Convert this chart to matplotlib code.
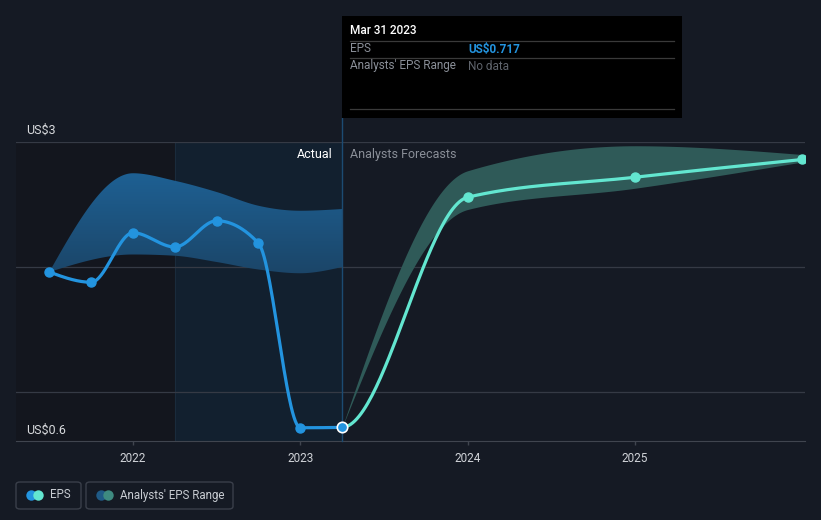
import numpy as np
import matplotlib
matplotlib.use("Agg")
import matplotlib.pyplot as plt
from matplotlib.colors import LinearSegmentedColormap
from matplotlib.patches import Rectangle, FancyBboxPatch, Polygon
from matplotlib.lines import Line2D

# EPS (trailing, quarterly) then analyst forecasts
eps_x = [2021.5, 2021.75, 2022.0, 2022.25, 2022.5, 2022.75, 2023.0, 2023.25, 2024.0, 2025.0, 2026.0]
eps_y = [1.96, 1.878, 2.274, 2.16, 2.37, 2.19, 0.714, 0.717, 2.558, 2.718, 2.86]
split_x = 2023.25

# analysts' range on past periods
past_x = [2021.5, 2022.0, 2022.25, 2022.5, 2022.75, 2023.0, 2023.25]
past_hi = [1.96, 2.75, 2.69, 2.60, 2.49, 2.45, 2.464]
past_lo = [1.96, 2.10, 2.09, 2.04, 1.98, 1.95, 2.0]

# analysts' range on forecasts
fc_x = [2023.25, 2024.0, 2025.0, 2026.0]
fc_hi = [0.717, 2.77, 2.97, 2.9]
fc_lo = [0.717, 2.46, 2.63, 2.84]

year_ticks = [2022, 2023, 2024, 2025]

BG = '#151a24'
BLUE = '#2394df'
TEAL = '#63e6d0'
W, H = 821, 520


def monotone(xs, ys, n=60):
    # d3 curveMonotoneX
    xs = np.asarray(xs, float); ys = np.asarray(ys, float)
    h = np.diff(xs); s = np.diff(ys) / h
    sg = lambda v: -1.0 if v < 0 else 1.0
    t = np.zeros(len(xs))
    for i in range(1, len(xs) - 1):
        p = (s[i-1]*h[i] + s[i]*h[i-1]) / (h[i-1] + h[i])
        t[i] = (sg(s[i-1]) + sg(s[i])) * min(abs(s[i-1]), abs(s[i]), 0.5*abs(p))
    if len(xs) > 2:
        t[0] = (3*s[0] - t[1]) / 2
        t[-1] = (3*s[-1] - t[-2]) / 2
    else:
        t[:] = s[0]
    ox, oy = [], []
    for i in range(len(xs) - 1):
        u = np.linspace(0, 1, n)
        h00 = 2*u**3 - 3*u**2 + 1; h10 = u**3 - 2*u**2 + u
        h01 = -2*u**3 + 3*u**2; h11 = u**3 - u**2
        yy = h00*ys[i] + h10*h[i]*t[i] + h01*ys[i+1] + h11*h[i]*t[i+1]
        xx = xs[i] + u*h[i]
        ox.append(xx if i == 0 else xx[1:]); oy.append(yy if i == 0 else yy[1:])
    return np.concatenate(ox), np.concatenate(oy)


def fx(px):
    return px / W


def fy(py):
    return 1 - py / H


fig = plt.figure(figsize=(8.21, 5.20), dpi=100, facecolor=BG)
ax = fig.add_axes([fx(16), fy(441), fx(805) - fx(16), fy(142) - fy(441)])
ax.set_facecolor(BG)
x0, x1 = 2021.301, 2026.016
ax.set_xlim(x0, x1)
ax.set_ylim(0.608, 3.0)

# shaded periods
ax.axvspan(x0, 2022.25, color='#13161e', zorder=0, lw=0)
ax.axvspan(2022.25, split_x, color='#12202f', zorder=0, lw=0)
ax.axvline(2022.25, color='#1a2b3c', lw=0.8, zorder=0.5)

for gy in [1, 2, 3]:
    ax.axhline(gy, color='#353a45', lw=0.9, zorder=1)

# past range band with vertical gradient
bx, bhi = monotone(past_x, past_hi)
_, blo = monotone(past_x, past_lo)
verts = np.column_stack([np.concatenate([bx, bx[::-1]]), np.concatenate([bhi, blo[::-1]])])
poly = Polygon(verts, closed=True, facecolor='none', edgecolor='none')
ax.add_patch(poly)
cmap = LinearSegmentedColormap.from_list('band', ['#1b4466', '#1e6296'])
grad = np.linspace(0, 1, 256).reshape(-1, 1)
im = ax.imshow(grad, extent=[past_x[0], past_x[-1], 1.9, 2.8], origin='lower',
               aspect='auto', cmap=cmap, zorder=2)
im.set_clip_path(poly)

# forecast band
fxs, fhi = monotone(fc_x, fc_hi)
_, flo = monotone(fc_x, fc_lo)
ax.fill_between(fxs, flo, fhi, color='#2f5a58', lw=0, zorder=2)

# EPS line
cx, cy = monotone(eps_x, eps_y)
m = cx <= split_x
ax.plot(cx[m], cy[m], color=BLUE, lw=2.3, zorder=4, solid_capstyle='round')
ax.plot(cx[cx >= split_x], cy[cx >= split_x], color=TEAL, lw=2.3, zorder=4, solid_capstyle='round')

ex = np.array(eps_x); ey = np.array(eps_y)
ax.plot(ex[ex < split_x], ey[ex < split_x], 'o', color=BLUE, ms=6.5, zorder=5)
ax.plot(ex[ex > split_x], ey[ex > split_x], 'o', color=TEAL, ms=6.5, zorder=5)
ax.plot([split_x], [eps_y[eps_x.index(split_x)]], 'o', color=BLUE, mec='white', mew=1.2, ms=7.5, zorder=6)

# tooltip guide line
ax.axvline(split_x, ymin=0, ymax=(441 - 118) / 299, color='#1c4b72', lw=1, clip_on=False, zorder=3)

for sp in ['left', 'right', 'top']:
    ax.spines[sp].set_visible(False)
ax.spines['bottom'].set_color('#40454f')
ax.set_xlim(x0, x1)
ax.set_ylim(0.608, 3.0)
ax.set_yticks([])
ax.set_xticks(year_ticks)
ax.set_xticklabels([str(y) for y in year_ticks])
ax.tick_params(axis='x', colors='#40454f', length=3, width=1, labelcolor='#d0d3d8',
               labelsize=8.5, pad=5)
for lb in ax.get_xticklabels():
    lb.set_family('Roboto')

# axis value labels
fig.text(fx(26), fy(130), 'US$3', color='#d8dadd', fontsize=9, family='Roboto', va='center')
fig.text(fx(26), fy(430), 'US$0.6', color='#d8dadd', fontsize=9, family='Roboto', va='center')
fig.text(fx(333), fy(154), 'Actual', color='#ffffff', fontsize=9, family='Roboto', va='center', ha='right')
fig.text(fx(350), fy(154), 'Analysts Forecasts', color='#8a8f98', fontsize=9, family='Roboto', va='center')

# tooltip
fig.patches.append(Rectangle((fx(342), fy(118)), fx(682) - fx(342), fy(16) - fy(118),
                             transform=fig.transFigure, facecolor='#000000', edgecolor='none', zorder=10))
for ly in [41, 58, 109]:
    fig.lines.append(Line2D([fx(350), fx(674)], [fy(ly), fy(ly)], transform=fig.transFigure,
                            color='#3a3a3a', lw=0.9, zorder=11))
fig.text(fx(350), fy(31), 'Mar 31 2023', color='#ffffff', fontsize=8.5, family='Roboto',
         weight='medium', va='center', zorder=12)
fig.text(fx(350), fy(49), 'EPS', color='#8a8f98', fontsize=8.5, family='Roboto', va='center', zorder=12)
fig.text(fx(468), fy(49), 'US$0.717', color=BLUE, fontsize=8.5, family='Roboto', weight='bold',
         va='center', zorder=12)
fig.text(fx(350), fy(66), "Analysts' EPS Range", color='#8a8f98', fontsize=8.5, family='Roboto',
         va='center', zorder=12)
fig.text(fx(468), fy(66), 'No data', color='#5f646c', fontsize=8.5, family='Roboto', va='center', zorder=12)

# legend
for (l, r, c1, c2, label) in [(16, 81, BLUE, TEAL, 'EPS'),
                              (86, 233, '#1f5a86', '#3e8a80', "Analysts' EPS Range")]:
    fig.patches.append(FancyBboxPatch((fx(l), fy(509)), fx(r) - fx(l), fy(482) - fy(509),
                                      boxstyle='round,pad=0,rounding_size=0.005',
                                      transform=fig.transFigure, facecolor='none',
                                      edgecolor='#3a3f4a', lw=1))
    fig.lines.append(Line2D([fx(l + 15)], [fy(494.5)], transform=fig.transFigure, marker='o',
                            ms=7.5, color=c1, mec='none'))
    fig.lines.append(Line2D([fx(l + 21.5)], [fy(494.5)], transform=fig.transFigure, marker='o',
                            ms=7.5, color=c2, mec='none'))
    fig.text(fx(l + 34), fy(495), label, color='#c8ccd2', fontsize=8.3, family='Roboto', va='center')

fig.savefig('out.png', dpi=100, facecolor=BG)
